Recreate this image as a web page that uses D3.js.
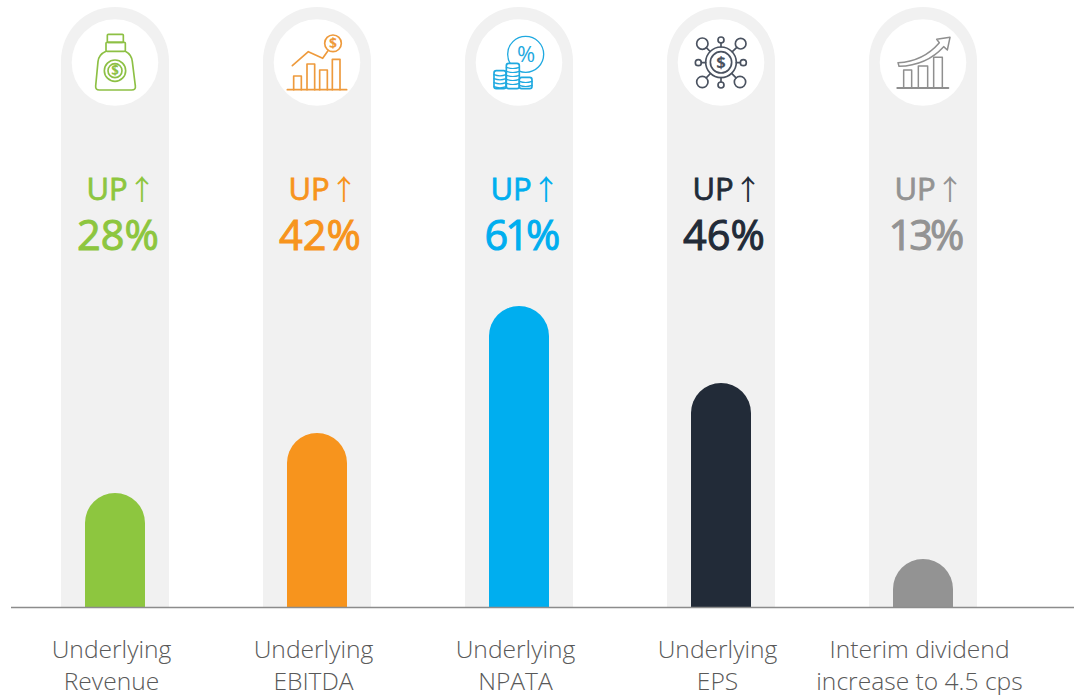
<!DOCTYPE html>
<html><head><meta charset="utf-8">
<script src="https://cdn.jsdelivr.net/npm/d3@7"></script>
<style>html,body{margin:0;padding:0;background:#fff}svg{display:block}text{font-family:"Open Sans",sans-serif}</style>
</head><body><svg id="c" width="1074" height="695"></svg>
<script>
const categories = ["Underlying Revenue","Underlying EBITDA","Underlying NPATA","Underlying EPS","Interim dividend increase to 4.5 cps"];
const labelLine1 = ["Underlying","Underlying","Underlying","Underlying","Interim dividend"];
const labelLine2 = ["Revenue","EBITDA","NPATA","EPS","increase to 4.5 cps"];
const percentLabels = ["28%","42%","61%","46%","13%"];
// bar lengths (the original's bars are not proportional to the printed %)
const barValues = [114,174,301,224,48];
const colors = ["#8DC63F","#F7941D","#00AEEF","#222B38","#939393"];
const iconColors = ["#8DC044","#EE9A3C","#1FA9E0","#4A5260","#8F8F8F"];
const trackMax = 600;

const svg = d3.select("#c");
const x = d3.scaleBand().domain(categories).range([14,1024]).paddingInner(0).paddingOuter(0);
const y = d3.scaleLinear().domain([0,trackMax]).range([607,7]);
const cx = c => x(c)+x.bandwidth()/2;
const trackW = 108, barW = 60;

function topRounded(x0,w,yTop,yBot){
  const r=w/2;
  return `M${x0},${yBot}V${yTop+r}A${r},${r} 0 0 1 ${x0+w},${yTop+r}V${yBot}Z`;
}
const g = svg.selectAll("g.col").data(categories).join("g").attr("class","col");
g.append("path").attr("fill","#F1F1F1").attr("d",c=>topRounded(cx(c)-trackW/2,trackW,y(trackMax),y(0)));
g.append("circle").attr("cx",cx).attr("cy",62.5).attr("r",43.3).attr("fill","#fff");
g.append("path").attr("fill",(c,i)=>colors[i]).attr("d",(c,i)=>topRounded(cx(c)-barW/2,barW,y(barValues[i]),y(0)));

g.append("text").attr("x",c=>cx(c)-28.5).attr("y",199.5)
  .attr("font-size",31).attr("font-weight",400).attr("fill",(c,i)=>colors[i])
  .attr("stroke",(c,i)=>colors[i]).attr("stroke-width",0.8).text("UP");
g.append("text").attr("x",c=>cx(c)+27).attr("y",199.5).attr("text-anchor","middle")
  .style("font-family","'Noto Sans CJK JP'").attr("font-size",28).attr("font-weight",400).attr("fill",(c,i)=>colors[i]).text("↑");
g.append("text").attr("x",(c,i)=>cx(c)+(percentLabels[i].includes("1")?2:3)).attr("y",250).attr("text-anchor","middle")
  .attr("font-size",41.5).attr("font-weight",400).attr("fill",(c,i)=>colors[i])
  .attr("stroke",(c,i)=>colors[i]).attr("stroke-width",1)
  .style("letter-spacing",(c,i)=>percentLabels[i].includes("1")?"-3px":"0")
  .text((c,i)=>percentLabels[i]);
g.append("text").attr("x",c=>cx(c)-3.5).attr("y",658).attr("text-anchor","middle")
  .attr("font-size",24.6).attr("font-weight",300).attr("fill","#595959").text((c,i)=>labelLine1[i]);
g.append("text").attr("x",c=>cx(c)-3.5).attr("y",690).attr("text-anchor","middle")
  .attr("font-size",24.6).attr("font-weight",300).attr("fill","#595959").text((c,i)=>labelLine2[i]);

svg.append("line").attr("x1",11).attr("x2",1074).attr("y1",607.5).attr("y2",607.5).attr("stroke","#8C8C8C").attr("stroke-width",1.4);

// --- decorative pictograms, drawn at 3x and scaled down ---
function icon(ox,col){
  return svg.append("g").attr("transform",`translate(${ox},0) scale(${1/3})`)
    .attr("fill","none").attr("stroke",col).attr("stroke-width",5).attr("stroke-linejoin","round").attr("stroke-linecap","round");
}
function dollar(gp,xc,yc,s){
  gp.append("text").attr("x",xc).attr("y",yc+s*0.36).attr("text-anchor","middle").attr("font-size",s)
    .attr("font-weight",700).attr("fill",gp.attr("stroke")).attr("stroke","none").text("$");
}
// money bag
let a = icon(50,iconColors[0]);
a.append("rect").attr("x",172).attr("y",103).attr("width",48).attr("height",24).attr("rx",3);
a.append("rect").attr("x",168).attr("y",127).attr("width",58).attr("height",27).attr("rx",3);
a.append("path").attr("d","M168,154 Q146,164 144,185 L137,258 Q136,270 148,270 L245,270 Q258,270 256,258 L247,185 Q245,164 226,154");
a.append("circle").attr("cx",195).attr("cy",212).attr("r",32);
a.append("circle").attr("cx",195).attr("cy",212).attr("r",21);
dollar(a,195,212,40);
// growth chart with coin
let b = icon(50,iconColors[1]);
b.append("line").attr("x1",712).attr("x2",890).attr("y1",269).attr("y2",269);
[[731,228],[771,192],[809,210],[847,178]].forEach(d=>b.append("path").attr("d",`M${d[0]},269V${d[1]}H${d[0]+23}V269`));
b.append("path").attr("d","M727,197L775,155L818,175L834,152");
b.append("circle").attr("cx",849).attr("cy",130).attr("r",25);
dollar(b,849,130,42);
// coins and percent
let c3 = icon(450,iconColors[2]);
c3.append("circle").attr("cx",227).attr("cy",163).attr("r",54).attr("stroke-width",4);
c3.append("text").attr("x",228).attr("y",186).attr("text-anchor","middle").attr("font-size",66)
  .attr("fill",iconColors[2]).attr("stroke","none").text("%");
[[132,212,36],[169,190,39],[208,232,38]].forEach(s=>{
  c3.append("rect").attr("x",s[0]).attr("y",s[1]).attr("width",s[2]).attr("height",266-s[1]).attr("rx",7).attr("fill","#fff");
  d3.range(s[1]+12,262,12).forEach(yy=>c3.append("path").attr("stroke-width",3.5).attr("d",`M${s[0]},${yy}Q${s[0]+s[2]/2},${yy+7} ${s[0]+s[2]},${yy}`));
});
// network
let d = icon(450,iconColors[3]);
d.append("circle").attr("cx",813).attr("cy",187).attr("r",32);
d.append("circle").attr("cx",813).attr("cy",187).attr("r",46);
dollar(d,813,187,50);
[[757,131,17],[872,131,16],[757,246,17],[870,246,17],[813,120,9],[813,255,9],[745,188,9],[880,188,9]].forEach(s=>{
  d.append("circle").attr("cx",s[0]).attr("cy",s[1]).attr("r",s[2]);
  const dx=s[0]-813, dy=s[1]-187, L=Math.hypot(dx,dy);
  d.append("line").attr("x1",813+dx/L*46).attr("y1",187+dy/L*46).attr("x2",s[0]-dx/L*s[2]).attr("y2",s[1]-dy/L*s[2]);
});
// rising bars
let e = icon(860,iconColors[4]);
e.append("line").attr("x1",112).attr("x2",265).attr("y1",264).attr("y2",264).attr("stroke-width",6);
[[131,210,24],[175,198,28],[221,172,26]].forEach(s=>e.append("path").attr("stroke-width",4.5).attr("d",`M${s[0]},264V${s[1]}H${s[0]+s[2]}V264`));
e.append("path").attr("stroke-width",4.5).attr("d","M114,188Q190,184 238,128L230,118L270,112L262,150L251,140Q200,196 117,199Z");
</script></body></html>
